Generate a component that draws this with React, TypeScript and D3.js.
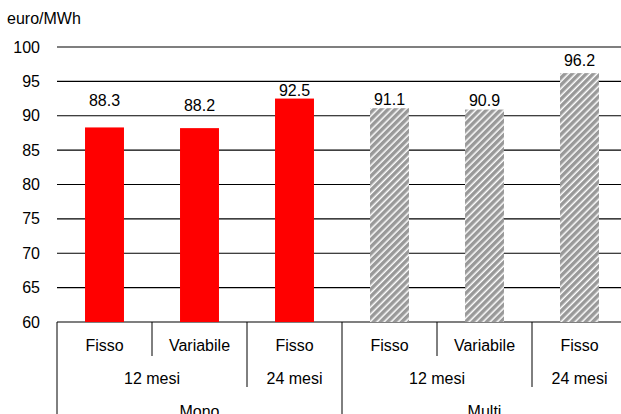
import { scaleBand, scaleLinear, range } from 'd3'

const WIDTH = 621
const HEIGHT = 414
const PLOT = { left: 57, right: 627, top: 47, bottom: 322 }
const FONT = '"Liberation Sans", Arial, sans-serif'
const FS = 16

const categories = ['Fisso', 'Variabile', 'Fisso', 'Fisso', 'Variabile', 'Fisso']
const values = [88.3, 88.2, 92.5, 91.1, 90.9, 96.2]
const tenors = [
  { label: '12 mesi', span: 2 },
  { label: '24 mesi', span: 1 },
  { label: '12 mesi', span: 2 },
  { label: '24 mesi', span: 1 },
]
const markets = [
  { label: 'Mono', span: 3 },
  { label: 'Multi', span: 3 },
]
const yTicks = [60, 65, 70, 75, 80, 85, 90, 95, 100]
const unitLabel = 'euro/MWh'

// label centre distance above each bar top (labels were hand-placed in the original)
const LABEL_GAP = [27, 23, 8.5, 9, 9, 13]
// level rows below the axis: text centre and line end
const ROW_CENTER = [345, 378, 411]
const ROW_END = [356, 387, HEIGHT]

function groupBounds(groups: { label: string; span: number }[]) {
  let start = 0
  return groups.map((g) => {
    const b = { label: g.label, start, end: start + g.span }
    start += g.span
    return b
  })
}

export default function App() {
  const idx = range(categories.length)
  const x = scaleBand<number>()
    .domain(idx)
    .range([PLOT.left, PLOT.right])
    .paddingInner(0.59)
    .paddingOuter(0.295)
  const step = x.step()
  const edge = (i: number) => PLOT.left + i * step
  const y = scaleLinear().domain([60, 100]).range([PLOT.bottom, PLOT.top])

  const tenorB = groupBounds(tenors)
  const marketB = groupBounds(markets)
  const marketOf = (i: number) => marketB.findIndex((m) => i >= m.start && i < m.end)

  // boundary level: 0 category, 1 tenor, 2 market
  const boundaries = range(categories.length).map((i) => {
    if (marketB.some((m) => m.start === i)) return { i, level: 2 }
    if (tenorB.some((t) => t.start === i)) return { i, level: 1 }
    return { i, level: 0 }
  })

  return (
    <svg
      width={WIDTH}
      height={HEIGHT}
      style={{ position: 'fixed', left: 0, top: 0, background: '#fff' }}
      fontFamily={FONT}
      fontSize={FS}
    >
      <defs>
        <pattern id="hatch" width={5} height={5} patternUnits="userSpaceOnUse" patternTransform="rotate(45)">
          <rect width={5} height={5} fill="#fff" />
          <rect width={3.5} height={5} fill="#999" />
        </pattern>
      </defs>
      <text x={7} y={24} fill="#000">
        {unitLabel}
      </text>
      {yTicks.map((t) => (
        <g key={t}>
          <line x1={PLOT.left} x2={WIDTH} y1={y(t)} y2={y(t)} stroke="#000" strokeWidth={1.2} />
          <text x={40} y={y(t)} dy="0.35em" textAnchor="end" fill="#000">
            {t}
          </text>
        </g>
      ))}
      {values.map((v, i) => (
        <g key={i}>
          <rect
            x={x(i)}
            y={y(v)}
            width={x.bandwidth()}
            height={y(60) - y(v)}
            fill={marketOf(i) === 0 ? '#ff0000' : 'url(#hatch)'}
          />
          <text
            x={(x(i) ?? 0) + x.bandwidth() / 2}
            y={y(v) - LABEL_GAP[i]}
            dy="0.35em"
            textAnchor="middle"
            fill="#000"
          >
            {v.toFixed(1)}
          </text>
        </g>
      ))}
      {boundaries.map((b) => (
        <line
          key={b.i}
          x1={edge(b.i)}
          x2={edge(b.i)}
          y1={PLOT.bottom}
          y2={ROW_END[b.level]}
          stroke="#000"
          strokeWidth={1}
        />
      ))}
      {categories.map((c, i) => (
        <text key={i} x={edge(i) + step / 2} y={ROW_CENTER[0]} dy="0.35em" textAnchor="middle">
          {c}
        </text>
      ))}
      {tenorB.map((t, i) => (
        <text key={i} x={(edge(t.start) + edge(t.end)) / 2} y={ROW_CENTER[1]} dy="0.35em" textAnchor="middle">
          {t.label}
        </text>
      ))}
      {marketB.map((m, i) => (
        <text key={i} x={(edge(m.start) + edge(m.end)) / 2} y={ROW_CENTER[2]} dy="0.35em" textAnchor="middle">
          {m.label}
        </text>
      ))}
    </svg>
  )
}
